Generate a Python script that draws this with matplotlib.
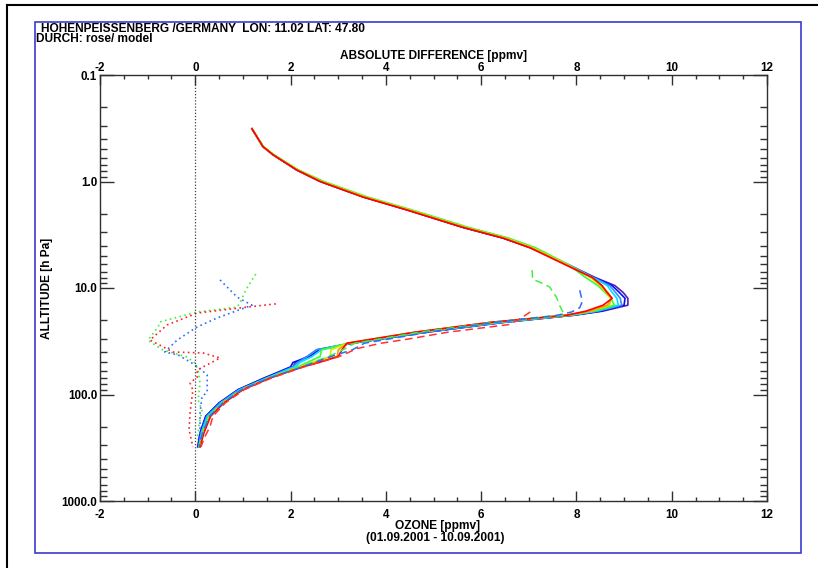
import matplotlib
matplotlib.use("Agg")
import matplotlib.pyplot as plt
from matplotlib.lines import Line2D
from matplotlib.patches import Rectangle

plt.rcParams['font.family'] = ['Liberation Sans', 'DejaVu Sans']
plt.rcParams['font.weight'] = 'bold'
plt.rcParams['axes.unicode_minus'] = False

# --------------------------------------
# data
# --------------------------------------
p_levels = [0.32, 0.47, 0.56, 0.78, 1.0, 1.4, 1.85, 2.7, 3.4, 4.2, 6.0,
            8.0, 9.5, 11, 12.5, 14.5, 16.5,
            18, 21, 26, 33, 38, 44, 50, 55,
            70, 90, 120, 160, 230, 310]

oz_purple = [1.19, 1.42, 1.63, 2.13, 2.62, 3.53, 4.45, 5.62, 6.46, 7.04, 7.82,
             8.40, 8.81, 8.98, 9.08, 9.08, 8.55,
             7.95, 6.50, 4.85, 3.30, 2.55, 2.35, 2.10, 2.05,
             1.45, 0.90, 0.50, 0.22, 0.10, 0.05]
oz_blue = [1.19, 1.42, 1.63, 2.13, 2.63, 3.54, 4.46, 5.63, 6.47, 7.05, 7.80,
           8.38, 8.75, 8.90, 9.02, 9.00, 8.50,
           7.95, 6.45, 4.85, 3.30, 2.60, 2.40, 2.05, 2.00,
           1.45, 0.90, 0.50, 0.22, 0.10, 0.06]
oz_lblue = [1.19, 1.42, 1.63, 2.14, 2.65, 3.56, 4.48, 5.66, 6.50, 7.08, 7.81,
            8.36, 8.70, 8.82, 8.92, 8.95, 8.45,
            7.90, 6.45, 4.80, 3.25, 2.55, 2.35, 2.15, 2.05,
            1.50, 0.92, 0.52, 0.24, 0.12, 0.07]
oz_cyan = [1.19, 1.42, 1.64, 2.15, 2.67, 3.58, 4.50, 5.69, 6.54, 7.10, 7.82,
           8.35, 8.65, 8.75, 8.85, 8.88, 8.40,
           7.90, 6.40, 4.80, 3.25, 2.65, 2.45, 2.20, 2.10,
           1.50, 0.95, 0.55, 0.26, 0.13, 0.08]
oz_green = [1.19, 1.43, 1.65, 2.17, 2.70, 3.62, 4.55, 5.74, 6.58, 7.15, 7.82,
            8.20, 8.45, 8.60, 8.72, 8.80, 8.35,
            7.85, 6.30, 4.70, 3.22, 2.65, 2.62, 2.35, 2.15,
            1.55, 0.97, 0.57, 0.28, 0.15, 0.08]
oz_yellow = [1.19, 1.42, 1.64, 2.15, 2.66, 3.58, 4.50, 5.68, 6.52, 7.09, 7.80,
             8.30, 8.50, 8.62, 8.72, 8.70, 8.30,
             7.80, 6.25, 4.65, 3.20, 2.85, 2.83, 2.45, 2.20,
             1.55, 0.98, 0.58, 0.30, 0.16, 0.09]
oz_orange = [1.19, 1.42, 1.63, 2.14, 2.64, 3.55, 4.47, 5.65, 6.49, 7.06, 7.78,
             8.33, 8.52, 8.66, 8.74, 8.65, 8.28,
             7.80, 6.20, 4.62, 3.20, 3.00, 2.98, 2.55, 2.22,
             1.57, 1.00, 0.60, 0.31, 0.17, 0.10]
oz_red = [1.19, 1.42, 1.63, 2.13, 2.62, 3.52, 4.44, 5.62, 6.46, 7.03, 7.75,
          8.34, 8.54, 8.64, 8.75, 8.56, 8.20,
          7.80, 6.20, 4.61, 3.18, 3.08, 3.00, 2.60, 2.26,
          1.57, 1.00, 0.60, 0.32, 0.18, 0.10]

solid_series = [oz_purple, oz_blue, oz_lblue, oz_cyan, oz_green, oz_yellow, oz_orange, oz_red]
solid_colors = ['#5b1fa8', '#0010ff', '#3c8cff', '#00e0ff', '#33ff33', '#ccee00', '#ff9900', '#ff0000']

# model profiles (dashed)
mod_green_p = [6.8, 8.3, 8.8, 9.8, 12.2, 15, 18, 21, 26, 33, 38, 44, 55, 70, 90, 120, 160, 230, 310]
mod_green_x = [7.07, 7.08, 7.23, 7.44, 7.58, 7.66, 7.75, 6.25, 4.70, 3.35, 3.10, 2.80, 2.20, 1.52, 0.97, 0.56, 0.29, 0.15, 0.08]
mod_blue_p = [10.5, 12, 13.5, 15.3, 16.8, 18, 21, 26, 33, 38, 44, 55, 70, 90, 120, 160, 230, 310]
mod_blue_x = [8.07, 8.10, 8.12, 8.07, 7.90, 7.60, 6.30, 4.90, 3.55, 3.30, 2.85, 2.25, 1.55, 0.97, 0.58, 0.30, 0.15, 0.08]
mod_red_p = [16.8, 19, 22, 26, 30, 33, 37, 44, 55, 70, 90, 120, 160, 200, 250, 310]
mod_red_x = [7.03, 6.85, 6.60, 5.30, 4.50, 3.90, 3.40, 3.02, 2.28, 1.60, 1.03, 0.63, 0.37, 0.31, 0.20, 0.12]

# absolute differences (dotted)
dif_green_p = [7.4, 10.4, 13.8, 15.1, 16.8, 20.8, 23.2, 30.8, 32.8, 38.2, 44.4, 50.6, 58.9, 78, 113, 140, 193, 267]
dif_green_x = [1.27, 1.06, 0.94, 0.88, 0.04, -0.74, -0.78, -0.99, -0.91, -0.68, -0.17, -0.01, 0.06, 0.10, 0.06, 0.14, 0.08, 0.04]
dif_blue_p = [8.4, 12.2, 14.5, 19.1, 23.2, 30.8, 39.9, 42.5, 49.5, 55.2, 65.6, 94.9, 105, 149, 267]
dif_blue_x = [0.52, 0.88, 1.19, 0.46, 0.04, -0.38, -0.64, -0.36, -0.11, 0.06, 0.25, 0.25, 0.14, 0.10, 0.10]
dif_red_p = [14.1, 15.1, 17.2, 22.2, 30.8, 39.9, 40.7, 45.4, 58.9, 68.5, 78, 90.8, 149, 215, 311]
dif_red_x = [1.69, 1.09, 0.04, -0.59, -0.95, -0.47, 0.16, 0.52, 0.04, 0.04, -0.11, -0.05, -0.11, -0.13, -0.05]

y_ticks = [0.1, 1.0, 10.0, 100.0, 1000.0]
y_ticklabels = ['0.1', '1.0', '10.0', '100.0', '1000.0']
x_ticks = [-2, 0, 2, 4, 6, 8, 10, 12]

# --------------------------------------
# figure
# --------------------------------------
W, H = 818, 568
fig = plt.figure(figsize=(W / 100, H / 100), dpi=100)


def fx(px):
    return px / W


def fy(py):
    return 1 - py / H


ax = fig.add_axes([fx(100), fy(501), fx(767) - fx(100), fy(75) - fy(501)])

for vals, col in zip(solid_series, solid_colors):
    ax.plot(vals, p_levels, color=col, lw=1.2)

dash = (0, (5, 3))
ax.plot(mod_green_x, mod_green_p, color='#44ee44', lw=1.1, ls=dash)
ax.plot(mod_blue_x, mod_blue_p, color='#2a6cff', lw=1.1, ls=dash)
ax.plot(mod_red_x, mod_red_p, color='#ff3333', lw=1.1, ls=dash)

dot = (0, (1, 2))
ax.plot(dif_green_x, dif_green_p, color='#44ee44', lw=1.2, ls=dot)
ax.plot(dif_blue_x, dif_blue_p, color='#2a6cff', lw=1.2, ls=dot)
ax.plot(dif_red_x, dif_red_p, color='#ff2020', lw=1.2, ls=dot)

ax.axvline(0, color='#404040', lw=0.9, ls=(0, (1, 1.5)))

ax.set_yscale('log')
ax.set_ylim(1000, 0.1)
ax.set_xlim(-2, 12)
ax.set_yticks(y_ticks)
ax.set_yticklabels(y_ticklabels)
ax.set_xticks(x_ticks)
ax.xaxis.set_minor_locator(matplotlib.ticker.MultipleLocator(0.5))

for s in ax.spines.values():
    s.set_color('#303030')
    s.set_linewidth(1.0)

TS = 8.4
ax.tick_params(axis='x', which='major', direction='in', length=7, width=1.0,
               labelsize=TS, pad=6, top=False, color='#303030')
ax.tick_params(axis='x', which='minor', direction='in', length=3, width=1.0, top=False, color='#303030')
ax.tick_params(axis='y', which='major', direction='in', length=10, width=1.0,
               labelsize=TS, pad=2, right=True, color='#303030')
ax.tick_params(axis='y', which='minor', direction='in', length=5, width=1.0, right=True, color='#303030')

top = ax.twiny()
top.set_xlim(-2, 12)
top.set_xticks(x_ticks)
top.xaxis.set_minor_locator(matplotlib.ticker.MultipleLocator(0.5))
top.tick_params(axis='x', which='major', direction='in', length=7, width=1.0,
                labelsize=TS, pad=1.0, color='#303030')
top.tick_params(axis='x', which='minor', direction='in', length=3, width=1.0, color='#303030')
for s in top.spines.values():
    s.set_visible(False)

# texts (baseline placed, pixel positions from the reference)
FS = 8.6
fig.text(fx(41), fy(32), 'HOHENPEISSENBERG /GERMANY  LON: 11.02 LAT: 47.80',
         fontsize=FS, fontweight='bold', va='baseline', ha='left')
fig.text(fx(36), fy(42.5), 'DURCH: rose/ model', fontsize=FS, fontweight='bold', va='baseline', ha='left')
fig.text(fx(433), fy(58.5), 'ABSOLUTE DIFFERENCE [ppmv]', fontsize=FS, fontweight='bold',
         va='baseline', ha='center')
fig.text(fx(437), fy(529.5), 'OZONE [ppmv]', fontsize=FS, fontweight='bold', va='baseline', ha='center')
fig.text(fx(435), fy(541.5), '(01.09.2001 - 10.09.2001)', fontsize=FS, fontweight='bold',
         va='baseline', ha='center')
fig.text(fx(47), fy(288), 'ALLTITUDE [h Pa]', fontsize=FS, fontweight='bold', va='center', ha='center',
         rotation=90)

# frames
fig.add_artist(Rectangle((fx(35), fy(553)), fx(801) - fx(35), fy(22) - fy(553),
                         transform=fig.transFigure, fill=False, ec='#3b3bd0', lw=1.2))
fig.add_artist(Line2D([fx(7), fx(7)], [0, fy(5)], transform=fig.transFigure, color='black', lw=1.5))
fig.add_artist(Line2D([fx(7), 1], [fy(5), fy(5)], transform=fig.transFigure, color='black', lw=1.5))

fig.savefig('out.png', dpi=100)
